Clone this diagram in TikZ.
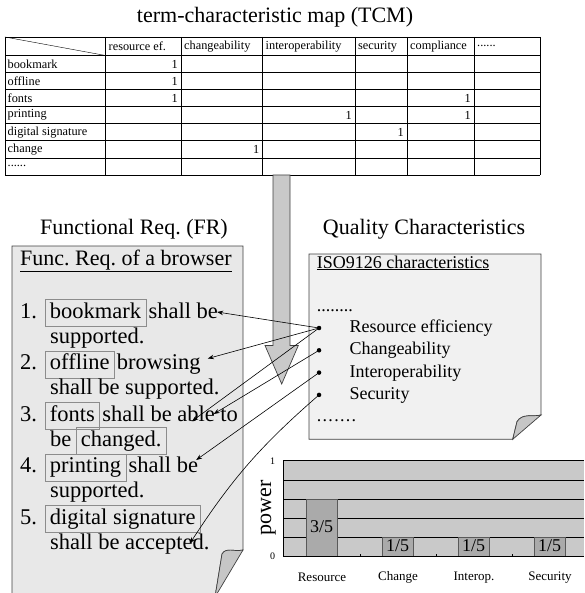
\documentclass[tikz,border=0pt]{standalone}
\usepackage{fontspec}
\setmainfont{Liberation Serif}
\usetikzlibrary{positioning,arrows.meta}
\frenchspacing
\newcommand{\psize}[1]{\fontsize{#1}{#1}\selectfont}
\newcommand{\sixdots}{......}
\tikzstyle{hdr}=[font=\psize{22}, inner sep=0pt, anchor=base]
\tikzstyle{tcell}=[font=\psize{12.3}, inner sep=0pt, anchor=west]
\tikzstyle{tnum}=[font=\psize{12.3}, inner sep=0pt, anchor=east]
\tikzstyle{tline}=[line width=0.8pt]
\tikzstyle{ftext}=[font=\psize{22.5}, inner sep=0pt]
\tikzstyle{wbox}=[draw=black!45, line width=0.8pt, font=\psize{22.5}, inner xsep=4.8pt,
                  inner ysep=0pt, text height=18.5pt, text depth=8.5pt]
\tikzstyle{qtext}=[font=\psize{18}, inner sep=0pt, text height=13pt, text depth=4pt]
\tikzstyle{dot}=[circle, fill=black, inner sep=0pt, minimum size=4.5pt]
\tikzstyle{link}=[-{Stealth[length=6pt,width=4.5pt]}, line width=0.6pt]
\tikzstyle{page}=[draw=black!75, line width=0.7pt]
\tikzstyle{fold}=[draw=black!75, fill=gray!45, line width=0.7pt]
\tikzstyle{bar}=[draw=black!65, fill=gray!67, line width=0.7pt]
\tikzstyle{gline}=[line width=0.6pt]

\begin{document}
\begin{tikzpicture}[x=1pt, y=-1pt, node distance=0pt]
\useasboundingbox (0,0) rectangle (584,593);

% term-characteristic map
\node[hdr] (TCM) at (275,22.5) {term-characteristic map (TCM)};
\draw[tline] (5,37) -- (540,37);
\foreach \k in {0,1,2,3,4,5,6,7} \draw[tline] (5,55.5+17.07*\k) -- (540,55.5+17.07*\k);
\foreach \x in {5,105.5,181,262.5,355,407,474,540} \draw[tline] (\x,37) -- (\x,175);
\draw[thin] (5,37) -- (105.5,55.5);
\foreach \x/\t [count=\i] in {108.5/resource ef.,184/changeability,265.5/interoperability,
    358/security,410/compliance,477/\sixdots}
  \node[tcell] (HC\i) at (\x,46.3) {\t};
\foreach \t [count=\i] in {bookmark,offline,fonts,printing,digital signature,change,\sixdots}
  \node[tcell] (RW\i) at (7.5,46.9+17.07*\i) {\t};
\foreach \x/\i [count=\n] in {178/1,178/2,178/3,471/3,352/4,471/4,404/5,259.5/6}
  \node[tnum] (ONE\n) at (\x,46.9+17.07*\i) {1};

\draw[draw=black!75, fill=gray!42, line width=0.7pt] (273,175) -- (273,345.5) -- (265,345.5)
  -- (281.7,384) -- (298.3,345.5) -- (290,345.5) -- (290,175) -- cycle;

% functional requirements page
\node[hdr] (FRT) at (134,235) {Functional Req. (FR)};
\draw[page, fill=gray!18] (12,246) -- (243,246) -- (243,550)
  .. controls (234,552) and (226,547) .. (222,554) -- (215,597) -- (12,597) -- cycle;
\draw[fold] (243,550) .. controls (234,552) and (226,547) .. (222,554) -- (215,597) -- cycle;
\node[hdr, anchor=base west] (FRH) at (20,265.5) {\underline{Func. Req. of a browser}};

\node[ftext, anchor=base west] (N1) at (20,318) {1.};
\node[wbox, base right=7.5pt of N1] (BM) {bookmark};
\node[ftext, base right=2pt of BM] (L1) {shall be};
\node[ftext, anchor=base west] (L1b) at (50,343) {supported.};

\node[ftext, anchor=base west] (N2) at (20,369.5) {2.};
\node[wbox, base right=7.5pt of N2] (OL) {offline};
\node[ftext, base right=2pt of OL] (L2) {browsing};
\node[ftext, anchor=base west] (L2b) at (50,394.5) {shall be supported.};

\node[ftext, anchor=base west] (N3) at (20,421) {3.};
\node[wbox, base right=7.5pt of N3] (FT) {fonts};
\node[ftext, base right=2pt of FT] (L3) {shall be able to};
\node[ftext, anchor=base west] (L3b) at (50,446) {be};
\node[wbox, base right=4pt of L3b] (CH) {changed.};

\node[ftext, anchor=base west] (N4) at (20,472.5) {4.};
\node[wbox, base right=7.5pt of N4] (PR) {printing};
\node[ftext, base right=2pt of PR] (L4) {shall be};
\node[ftext, anchor=base west] (L4b) at (50,497.5) {supported.};

\node[ftext, anchor=base west] (N5) at (20,524) {5.};
\node[wbox, base right=7.5pt of N5] (DS) {digital signature};
\node[ftext, anchor=base west] (L5b) at (50,549) {shall be accepted.};

% quality characteristics page
\node[hdr] (QCT) at (424,235) {Quality Characteristics};
\draw[page, fill=gray!11] (309,254) -- (541,254) -- (541,415)
  .. controls (533,417) and (522,413) .. (517,421.7) -- (512.7,439.3) -- (309,439.3) -- cycle;
\draw[fold] (541,415) .. controls (533,417) and (522,413) .. (517,421.7) -- (512.7,439.3) -- cycle;
\node[qtext, anchor=base west] (ISO) at (316.7,268) {\underline{ISO9126 characteristics}};
\node[qtext, anchor=base west] (Q0) at (316.7,311) {........};
\node[qtext, anchor=base west] (Q1) at (349.3,332.5) {Resource efficiency};
\node[qtext, below=4.9pt of Q1.south west, anchor=north west] (Q2) {Changeability};
\node[qtext, below=4.9pt of Q2.south west, anchor=north west] (Q3) {Interoperability};
\node[qtext, below=4.9pt of Q3.south west, anchor=north west] (Q4) {Security};
\node[qtext, anchor=base west] (Q5) at (316.7,421.5) {.\kern1.3pt.\kern1.3pt.\kern1.3pt.\kern1.3pt.\kern1.3pt.\kern1.3pt.};
\foreach \i in {1,2,3,4} \node[dot, left=27.8pt of Q\i] (B\i) {};

% links
\coordinate (T1) at ([xshift=-1pt,yshift=6pt]L1.base east);
\coordinate (T2) at ([xshift=7pt,yshift=11pt]L2.base east);
\coordinate (T3a) at ([xshift=90pt]L3.base west);
\coordinate (T3b) at ([xshift=111.5pt,yshift=7pt]L3.base west);
\coordinate (T4) at ([xshift=-2pt,yshift=12.5pt]L4.base east);
\coordinate (T5) at ([xshift=140pt,yshift=5.7pt]L5b.base west);
\draw[link] (B1.center) -- (T1);
\draw[link] (B1.center) -- (T2);
\draw[link] (B1.center) -- (T3a);
\draw[link] (B2.center) -- (T3b);
\draw[link] (B3.center) -- (T4);
\draw[link] (B4.center) to[bend right=8] (T5);

% power chart
\fill[gray!42] (283.3,460.7) rectangle (584,556.7);
\foreach \y in {460.7,479.9,499.1,518.3,537.5} \draw[gline] (283.3,\y) -- (584,\y);
\foreach \n/\t/\c [count=\i from 0] in {3/3\slash5/Resource,1/1\slash5/Change,
    1/1\slash5/Interop.,1/1\slash5/Security} {
  \draw[bar] (306+76*\i,556.7) rectangle (337.3+76*\i,556.7-19.2*\n);
  \node[font=\psize{18}, inner sep=0pt] (BV\i) at (321.7+76*\i,555-9.6*\n) {\t};
  \node[font=\psize{13}, inner sep=0pt] (CT\i) at (322+76*\i,577.3) {\c};
}
\draw[line width=0.9pt] (283.3,460.7) -- (283.3,556.7) -- (584,556.7);
\foreach \x in {360,436,512} \draw[gline] (\x,556.7) -- (\x,553.5);
\node[font=\psize{10}, inner sep=0pt] (Y1) at (272.7,460.7) {1};
\node[font=\psize{10}, inner sep=0pt] (Y0) at (272.7,556.7) {0};
\node[font=\psize{22}, inner sep=0pt, rotate=90] (PW) at (268.3,508) {power};

\end{tikzpicture}
\end{document}
